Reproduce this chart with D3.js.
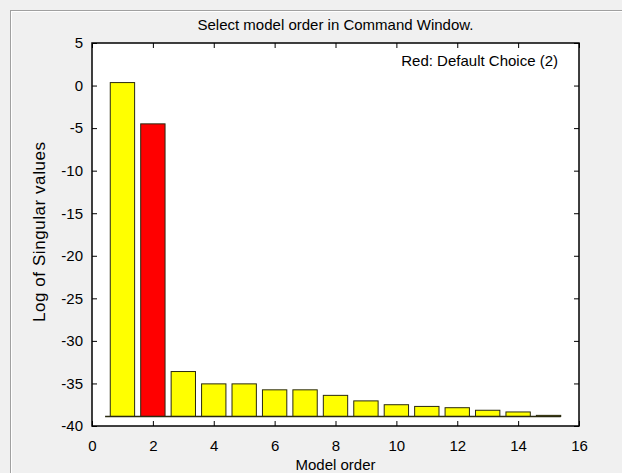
<!DOCTYPE html>
<html>
<head>
<meta charset="utf-8">
<script src="https://cdn.jsdelivr.net/npm/d3@7"></script>
<style>
  body { margin: 0; background: #f0f0f0; }
  svg text { font-family: Arial, "Liberation Sans", sans-serif; fill: #000; }
</style>
</head>
<body>
<div id="chart"></div>
<script>
// model orders and log of singular values
const orders = [1, 2, 3, 4, 5, 6, 7, 8, 9, 10, 11, 12, 13, 14, 15];
const logSV = [0.35, -4.5, -33.6, -35.05, -35.05, -35.75, -35.75, -36.4, -37.05, -37.5, -37.7, -37.85, -38.15, -38.35, -38.75];
const baseValue = -38.88;
const defaultChoice = 2;
const xTicks = [0, 2, 4, 6, 8, 10, 12, 14, 16];
const yTicks = [5, 0, -5, -10, -15, -20, -25, -30, -35, -40];

const W = 622, H = 473;
const margin = { left: 92, top: 43, right: 43, bottom: 47 };
const width = W - margin.left - margin.right;
const height = H - margin.top - margin.bottom;

const svg = d3.select('#chart').append('svg')
    .attr('width', W)
    .attr('height', H);

// figure frame
svg.append('rect')
    .attr('x', 10.5).attr('y', 10.5)
    .attr('width', W).attr('height', H)
    .attr('fill', '#f0f0f0')
    .attr('stroke', '#a0a0a0');
svg.append('rect')
    .attr('x', 11.5).attr('y', 11.5)
    .attr('width', W).attr('height', H)
    .attr('fill', 'none')
    .attr('stroke', '#ffffff');

const g = svg.append('g')
    .attr('transform', `translate(${margin.left},${margin.top})`);

const xScale = d3.scaleLinear().domain([0, 16]).range([0, width]);
const yScale = d3.scaleLinear().domain([-40, 5]).range([height, 0]);

g.append('rect')
    .attr('width', width)
    .attr('height', height)
    .attr('fill', '#ffffff');

const barW = xScale(0.8) - xScale(0);

g.selectAll('.bar')
    .data(orders)
    .enter()
    .append('rect')
    .attr('class', 'bar')
    .attr('x', (d) => xScale(d) - barW / 2)
    .attr('y', (d, i) => yScale(logSV[i]))
    .attr('width', barW)
    .attr('height', (d, i) => Math.max(0, yScale(baseValue) - yScale(logSV[i])))
    .attr('fill', d => d === defaultChoice ? '#ff0000' : '#ffff00')
    .attr('stroke', '#2a2a10')
    .attr('stroke-width', 1);

// baseline
g.append('line')
    .attr('x1', xScale(d3.min(orders) - 0.57))
    .attr('x2', xScale(d3.max(orders) + 0.4))
    .attr('y1', yScale(baseValue))
    .attr('y2', yScale(baseValue))
    .attr('stroke', '#2a2a10')
    .attr('stroke-width', 1.5);

// axes: ticks inside, on all four sides
const fmt = d => String(d);
const xAxis = d3.axisBottom(xScale).tickValues(xTicks).tickSize(-5).tickPadding(14).tickFormat(fmt);
const xTop = d3.axisTop(xScale).tickValues(xTicks).tickSize(-5).tickFormat('');
const yAxis = d3.axisLeft(yScale).tickValues(yTicks).tickSize(-5).tickPadding(9).tickFormat(fmt);
const yRight = d3.axisRight(yScale).tickValues(yTicks).tickSize(-5).tickFormat('');

g.append('g').attr('class', 'axis').attr('transform', `translate(0,${height})`).call(xAxis);
g.append('g').attr('class', 'axis').call(xTop);
g.append('g').attr('class', 'axis').call(yAxis);
g.append('g').attr('class', 'axis').attr('transform', `translate(${width},0)`).call(yRight);

g.selectAll('.axis path, .axis line').attr('stroke', '#000');
g.selectAll('.axis .domain').remove();
g.selectAll('.axis text').attr('font-size', 15).attr('font-family', 'Arial, "Liberation Sans", sans-serif');

g.append('rect')
    .attr('width', width)
    .attr('height', height)
    .attr('fill', 'none')
    .attr('stroke', '#000')
    .attr('stroke-width', 1.5);

g.append('text')
    .attr('x', width / 2)
    .attr('y', -13)
    .attr('text-anchor', 'middle')
    .attr('font-size', 15)
    .text('Select model order in Command Window.');

g.append('text')
    .attr('x', width - 21)
    .attr('y', 23)
    .attr('text-anchor', 'end')
    .attr('font-size', 15)
    .text('Red: Default Choice (2)');

g.append('text')
    .attr('x', width / 2)
    .attr('y', height + 44)
    .attr('text-anchor', 'middle')
    .attr('font-size', 15)
    .text('Model order');

g.append('text')
    .attr('transform', 'rotate(-90)')
    .attr('x', -189)
    .attr('y', -47)
    .attr('text-anchor', 'middle')
    .attr('font-size', 17)
    .attr('textLength', 180)
    .attr('lengthAdjust', 'spacing')
    .text('Log of Singular values');
</script>
</body>
</html>
